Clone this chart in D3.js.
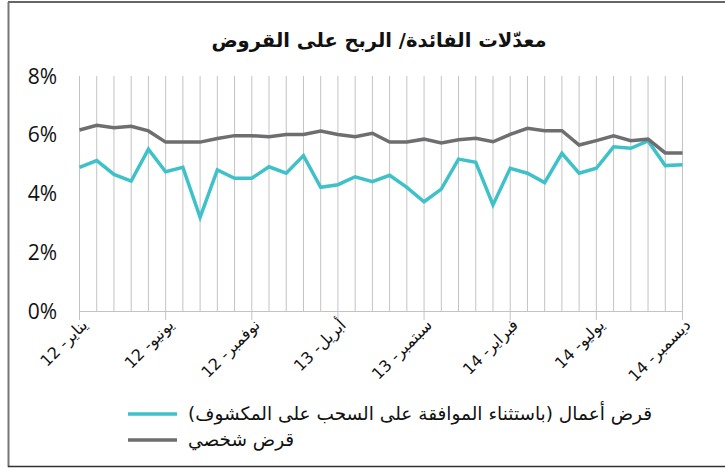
<!DOCTYPE html>
<html>
<head>
<meta charset="utf-8">
<script src="https://cdn.jsdelivr.net/npm/d3@7"></script>
<style>
  body { margin: 0; background: #fff; }
  svg { display: block; }
</style>
</head>
<body>
<svg id="chart" width="725" height="468"></svg>
<script>
// monthly, Jan 2012 .. Dec 2014
const arMonths = ["يناير", "فبراير", "مارس", "أبريل", "مايو", "يونيو", "يوليو", "أغسطس", "سبتمبر", "أكتوبر", "نوفمبر", "ديسمبر"];
const years = ["12", "13", "14"];
const months = years.flatMap(y => arMonths.map(m => `${m}- ${y}`));

const businessLoan = [
  4.89, 5.12, 4.65, 4.42, 5.51, 4.74, 4.89, 3.19, 4.80, 4.52, 4.52, 4.91,
  4.69, 5.29, 4.21, 4.30, 4.57, 4.40, 4.62, 4.21, 3.72, 4.15, 5.17, 5.06,
  3.61, 4.86, 4.69, 4.37, 5.37, 4.69, 4.86, 5.59, 5.54, 5.79, 4.95, 4.98
];
const personalLoan = [
  6.16, 6.32, 6.24, 6.29, 6.13, 5.75, 5.75, 5.75, 5.87, 5.97, 5.97, 5.93,
  6.01, 6.01, 6.13, 6.01, 5.93, 6.05, 5.75, 5.75, 5.85, 5.72, 5.83, 5.88,
  5.76, 6.01, 6.22, 6.14, 6.14, 5.65, 5.80, 5.96, 5.80, 5.85, 5.38, 5.38
];
const yTicks = [0, 2, 4, 6, 8];

const seriesNames = ["قرض أعمال (باستثناء الموافقة على السحب على المكشوف)", "قرض شخصي"];
const seriesColors = ["#3fc1c9", "#6e6e70"];
const title = "معدّلات الفائدة/ الربح على القروض";

const svg = d3.select("#chart");
const arFont = "'DejaVu Sans', 'Noto Sans', sans-serif";

// frame
svg.append("line").attr("x1", 8).attr("x2", 725).attr("y1", 2).attr("y2", 2)
  .attr("stroke", "#333").attr("stroke-width", 1.5);
svg.append("line").attr("x1", 8.5).attr("x2", 8.5).attr("y1", 2).attr("y2", 467)
  .attr("stroke", "#777").attr("stroke-width", 2);
svg.append("line").attr("x1", 8).attr("x2", 725).attr("y1", 466.5).attr("y2", 466.5)
  .attr("stroke", "#333").attr("stroke-width", 1.5);

svg.append("text")
  .attr("x", 379).attr("y", 47)
  .attr("text-anchor", "middle")
  .attr("font-family", arFont)
  .attr("font-weight", "bold")
  .attr("font-size", 19.5)
  .attr("fill", "#111")
  .text(title);

// scales
const x = d3.scalePoint().domain(d3.range(months.length)).range([79.5, 682.5]);
const y = d3.scaleLinear().domain([0, 8]).range([311, 76]);

// vertical gridlines each month
svg.append("g")
  .selectAll("line")
  .data(d3.range(months.length))
  .join("line")
  .attr("x1", d => x(d)).attr("x2", d => x(d))
  .attr("y1", y(8)).attr("y2", d => d % 5 === 0 ? y(0) + 9 : y(0))
  .attr("stroke", "#c3c3c3").attr("stroke-width", 1);

// axis line
svg.append("line")
  .attr("x1", x(0)).attr("x2", x(months.length - 1))
  .attr("y1", y(0) + 0.5).attr("y2", y(0) + 0.5)
  .attr("stroke", "#c3c3c3");

// y labels
svg.append("g")
  .selectAll("text")
  .data(yTicks)
  .join("text")
  .attr("x", 57).attr("y", d => y(d) + 7.5)
  .attr("text-anchor", "end")
  .attr("font-family", "'Open Sans', sans-serif")
  .attr("font-size", 21)
  .attr("fill", "#111")
  .text(d => d + "%");

// x labels, every 5 months
svg.append("g")
  .selectAll("text")
  .data(d3.range(0, months.length, 5))
  .join("text")
  .attr("transform", d => `translate(${x(d) + 9},${y(0) + 15}) rotate(-45)`)
  .attr("direction", "rtl")
  .attr("text-anchor", "start")
  .attr("font-family", arFont)
  .attr("font-size", 16)
  .attr("fill", "#111")
  .text(d => months[d]);

// lines
const line = d3.line().x((d, i) => x(i)).y(d => y(d));
[businessLoan, personalLoan].forEach((s, k) => {
  svg.append("path")
    .datum(s)
    .attr("fill", "none")
    .attr("stroke", seriesColors[k])
    .attr("stroke-width", 3.5)
    .attr("stroke-linejoin", "miter")
    .attr("d", line);
});

// legend
const legend = svg.append("g");
seriesNames.forEach((name, k) => {
  const ly = 414 + k * 26;
  legend.append("line")
    .attr("x1", 128).attr("x2", 177)
    .attr("y1", ly).attr("y2", ly)
    .attr("stroke", seriesColors[k]).attr("stroke-width", 3.5);
  legend.append("text")
    .attr("x", 188).attr("y", ly + 6)
    .attr("direction", "rtl")
    .attr("text-anchor", "end")
    .attr("font-family", arFont)
    .attr("font-size", 18.5)
    .attr("fill", "#111")
    .text(name);
});
</script>
</body>
</html>
